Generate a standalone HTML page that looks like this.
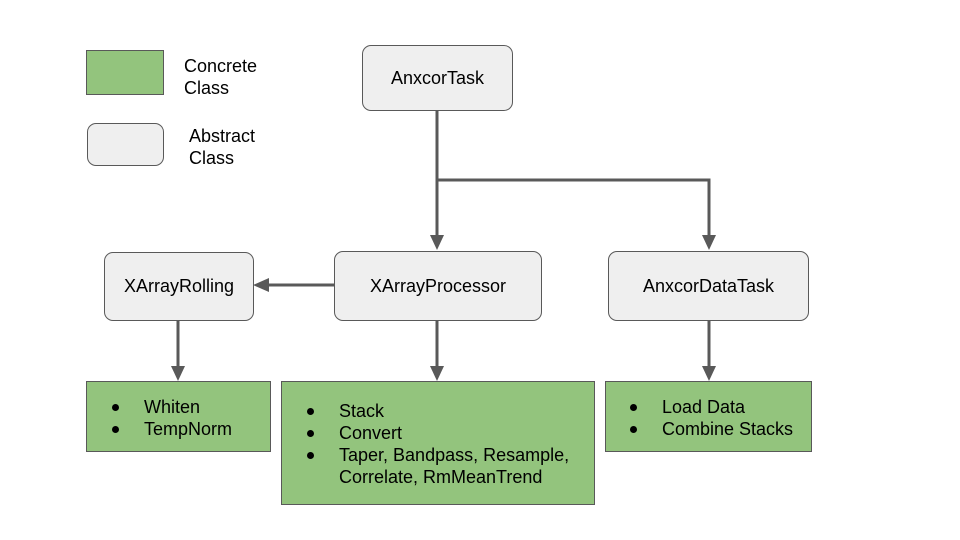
<!DOCTYPE html>
<html><head><style>
body{margin:0;width:960px;height:540px;background:#fff;position:relative;overflow:hidden;font-family:"Liberation Sans",Arial,sans-serif;font-size:18px;color:#000}
.b{position:absolute;box-sizing:border-box;border:1px solid #595959}
.g{background:#93c47d}
.a{background:#efefef;border-radius:9px;display:flex;align-items:center;justify-content:center}
.t{position:absolute;line-height:22px}
ul{margin:0;padding:0;list-style:none;position:absolute}
li{position:relative;padding-left:36px;line-height:22px;white-space:nowrap}
li:before{content:"";position:absolute;left:4px;top:8px;width:7px;height:7px;border-radius:50%;background:#000}
</style></head><body>
<div class="b g" style="left:86px;top:50px;width:78px;height:45px"></div>
<div class="t" style="left:184px;top:55px">Concrete<br>Class</div>
<div class="b a" style="left:87px;top:123px;width:77px;height:43px"></div>
<div class="t" style="left:189px;top:125px">Abstract<br>Class</div>

<svg style="position:absolute;left:0;top:0" width="960" height="540">
<g stroke="#595959" stroke-width="3" fill="none">
<path d="M437 110V238M437 180H709V238M334 285H268M178 320V368M437 320V368M709 320V368"/>
</g>
<g fill="#595959">
<path d="M430 235h14l-7 15z"/><path d="M702 235h14l-7 15z"/>
<path d="M269 278v14l-16 -7z"/>
<path d="M171 366h14l-7 15z"/><path d="M430 366h14l-7 15z"/><path d="M702 366h14l-7 15z"/>
</g></svg>

<div class="b a" style="left:362px;top:45px;width:151px;height:66px">AnxcorTask</div>
<div class="b a" style="left:104px;top:252px;width:150px;height:69px">XArrayRolling</div>
<div class="b a" style="left:334px;top:251px;width:208px;height:70px">XArrayProcessor</div>
<div class="b a" style="left:608px;top:251px;width:201px;height:70px">AnxcorDataTask</div>

<div class="b g" style="left:86px;top:381px;width:185px;height:71px"><ul style="left:21px;top:14px"><li>Whiten</li><li>TempNorm</li></ul></div>
<div class="b g" style="left:281px;top:381px;width:314px;height:124px"><ul style="left:21px;top:18px"><li>Stack</li><li>Convert</li><li>Taper, Bandpass, Resample,<br>Correlate, RmMeanTrend</li></ul></div>
<div class="b g" style="left:605px;top:381px;width:207px;height:71px"><ul style="left:20px;top:14px"><li>Load Data</li><li>Combine Stacks</li></ul></div>
</body></html>
